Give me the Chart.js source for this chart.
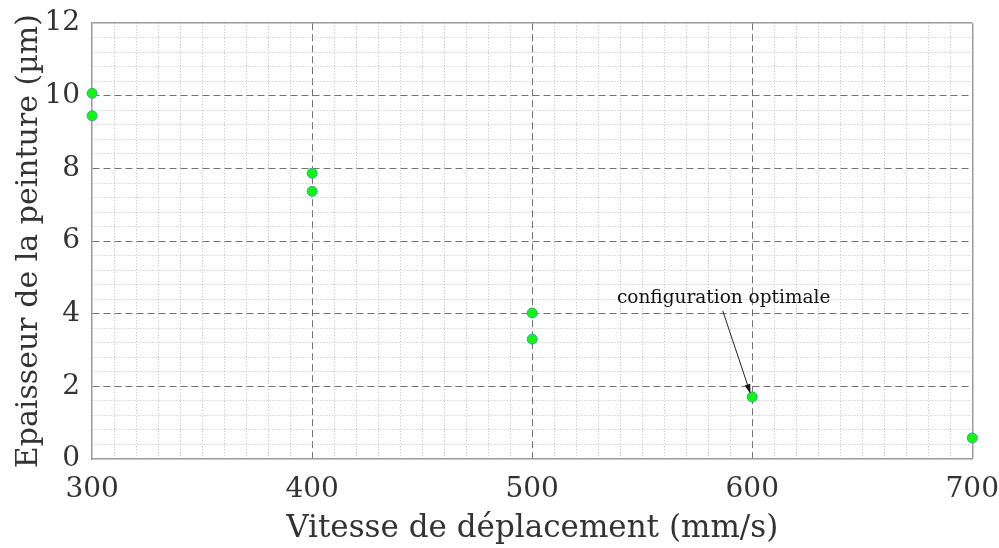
<!DOCTYPE html>
<html>
<head>
<meta charset="utf-8">
<script src="https://cdn.jsdelivr.net/npm/chart.js@4/dist/chart.umd.min.js"></script>
<style>
  html, body { margin: 0; padding: 0; background: #fff; }
  #wrap { width: 999px; height: 548px; }
</style>
</head>
<body>
<div id="wrap"><canvas id="c" width="999" height="548"></canvas></div>
<script>
// Measured paint thickness versus travel speed
const speeds    = [300, 300, 400, 400, 500, 500, 600, 700];          // mm/s
const thickness = [10.07, 9.45, 7.87, 7.37, 4.02, 3.30, 1.71, 0.58]; // µm

// Labelled (major) ticks; minor grid lines fall in between
const xMajorTicks = [300, 400, 500, 600, 700];
const yMajorTicks = [0, 2, 4, 6, 8, 10, 12];

// Callout pointing at the chosen setting
const calloutText  = 'configuration optimale';
const calloutLabel = { x: 587, y: 4.44 };
const calloutFrom  = { x: 586.6, y: 4.08 };
const calloutTo    = { x: 599.2, y: 1.80 };

const SERIF = '"DejaVu Serif", "Liberation Serif", serif';
const MAJOR_COLOR = 'rgba(100,100,100,0.9)';
const MINOR_COLOR = 'rgba(182,182,182,0.9)';
const FRAME_COLOR = '#9a9a9a';

const isMajor = (v, list) => list.some(m => Math.abs(m - v) < 1e-6);

function gridColor(list, lo, hi) {
  return ctx => {
    if (!ctx.tick) return FRAME_COLOR;
    const v = ctx.tick.value;
    if (Math.abs(v - hi) < 1e-6) return FRAME_COLOR;
    if (Math.abs(v - lo) < 1e-6) return 'rgba(0,0,0,0)';
    return isMajor(v, list) ? MAJOR_COLOR : MINOR_COLOR;
  };
}
function gridWidth(list, lo, hi) {
  return ctx => {
    if (!ctx.tick) return 1.5;
    const v = ctx.tick.value;
    if (Math.abs(v - hi) < 1e-6) return 1.5;
    return 1;
  };
}
function gridDash(list, lo, hi) {
  return ctx => {
    if (!ctx.tick) return [];
    const v = ctx.tick.value;
    if (Math.abs(v - hi) < 1e-6 || Math.abs(v - lo) < 1e-6) return [];
    return isMajor(v, list) ? [7, 4] : [1, 2];
  };
}

const calloutPlugin = {
  id: 'callout',
  afterDatasetsDraw(chart) {
    const { ctx, scales: { x, y } } = chart;
    const tx = x.getPixelForValue(calloutLabel.x);
    const ty = y.getPixelForValue(calloutLabel.y);
    ctx.save();
    ctx.font = '18.5px ' + SERIF;
    ctx.fillStyle = '#111';
    ctx.textAlign = 'center';
    ctx.textBaseline = 'middle';
    ctx.fillText(calloutText, tx, ty);

    const x0 = x.getPixelForValue(calloutFrom.x), y0 = y.getPixelForValue(calloutFrom.y);
    const x1 = x.getPixelForValue(calloutTo.x),   y1 = y.getPixelForValue(calloutTo.y);
    const ang = Math.atan2(y1 - y0, x1 - x0);
    const head = 10, spread = 0.3;
    ctx.strokeStyle = '#222';
    ctx.lineWidth = 1;
    ctx.beginPath();
    ctx.moveTo(x0, y0);
    ctx.lineTo(x1 - Math.cos(ang) * head * 0.8, y1 - Math.sin(ang) * head * 0.8);
    ctx.stroke();
    ctx.fillStyle = '#111';
    ctx.beginPath();
    ctx.moveTo(x1, y1);
    ctx.lineTo(x1 - head * Math.cos(ang - spread), y1 - head * Math.sin(ang - spread));
    ctx.lineTo(x1 - head * Math.cos(ang + spread), y1 - head * Math.sin(ang + spread));
    ctx.closePath();
    ctx.fill();
    ctx.restore();
  }
};

new Chart(document.getElementById('c'), {
  type: 'scatter',
  data: {
    datasets: [{
      data: speeds.map((s, i) => ({ x: s, y: thickness[i] })),
      backgroundColor: '#10f810',
      borderColor: '#3aa0a0',
      borderWidth: 1,
      pointRadius: 5,
      clip: false
    }]
  },
  options: {
    responsive: false,
    animation: false,
    events: [],
    layout: { padding: { top: 0, right: 0, bottom: 9.6, left: -4 } },
    plugins: { legend: { display: false }, tooltip: { enabled: false } },
    scales: {
      x: {
        type: 'linear',
        min: 300, max: 700,
        ticks: {
          stepSize: 10,
          autoSkip: false,
          maxRotation: 0,
          padding: 0,
          color: '#333',
          font: { family: SERIF, size: 28, lineHeight: 2.164 },
          callback: v => isMajor(v, xMajorTicks) ? String(Math.round(v)) : ''
        },
        grid: {
          drawTicks: false,
          color: gridColor(xMajorTicks, 300, 700),
          lineWidth: gridWidth(xMajorTicks, 300, 700)
        },
        border: {
          display: true,
          color: FRAME_COLOR,
          width: 1.5,
          dash: gridDash(xMajorTicks, 300, 700)
        },
        title: {
          display: true,
          text: 'Vitesse de déplacement (mm/s)',
          color: '#333',
          font: { family: SERIF, size: 31, lineHeight: 0.606 },
          padding: { top: 0, bottom: 0 }
        }
      },
      y: {
        type: 'linear',
        min: 0, max: 12,
        ticks: {
          stepSize: 0.4,
          autoSkip: false,
          padding: 12,
          color: '#333',
          font: { family: SERIF, size: 28, lineHeight: 0.8 },
          callback: v => isMajor(v, yMajorTicks) ? String(Math.round(v)) : ''
        },
        grid: {
          drawTicks: false,
          color: gridColor(yMajorTicks, 0, 12),
          lineWidth: gridWidth(yMajorTicks, 0, 12)
        },
        border: {
          display: true,
          color: FRAME_COLOR,
          width: 1.5,
          dash: gridDash(yMajorTicks, 0, 12)
        },
        title: {
          display: true,
          text: 'Epaisseur de la peinture (µm)',
          color: '#333',
          font: { family: SERIF, size: 30, lineHeight: 0.233 },
          padding: { top: 29.5, bottom: 0 }
        }
      }
    }
  },
  plugins: [calloutPlugin]
});
</script>
</body>
</html>
